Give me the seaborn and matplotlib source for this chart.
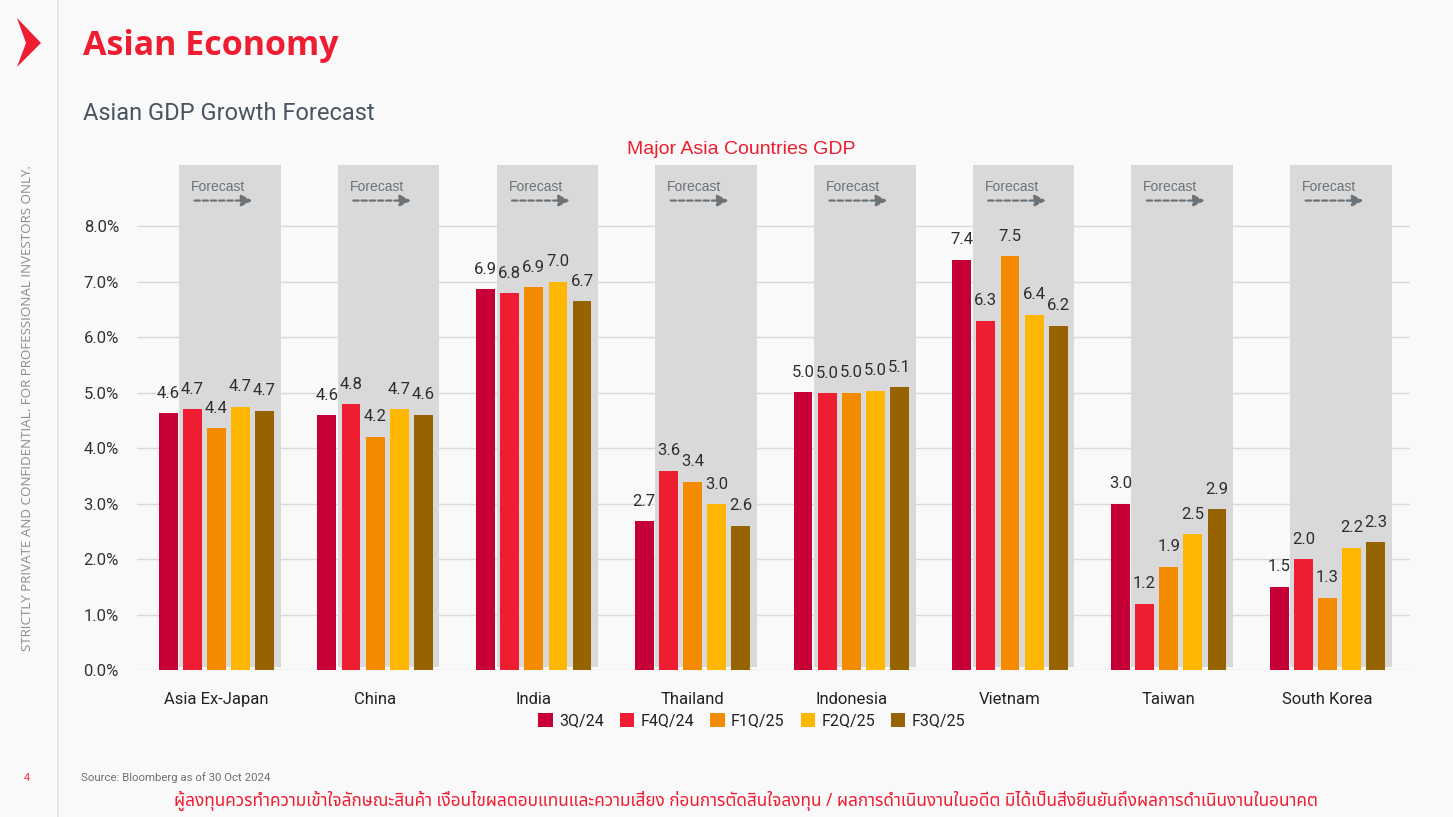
import numpy as np
import pandas as pd
import seaborn as sns
import matplotlib
matplotlib.use("Agg")
import matplotlib.pyplot as plt
from matplotlib import font_manager as fm
from matplotlib.patches import Rectangle, Polygon

# ---------------- data ----------------
countries = ["Asia Ex-Japan", "China", "India", "Thailand", "Indonesia",
             "Vietnam", "Taiwan", "South Korea"]
periods = ["3Q/24", "F4Q/24", "F1Q/25", "F2Q/25", "F3Q/25"]
q3_24 = [4.63, 4.59, 6.86, 2.68, 5.01, 7.39, 3.00, 1.50]
f4q_24 = [4.70, 4.79, 6.79, 3.59, 4.99, 6.29, 1.19, 2.00]
f1q_25 = [4.36, 4.20, 6.90, 3.39, 5.00, 7.46, 1.86, 1.30]
f2q_25 = [4.74, 4.70, 7.00, 2.99, 5.03, 6.40, 2.45, 2.20]
f3q_25 = [4.67, 4.60, 6.65, 2.60, 5.10, 6.20, 2.90, 2.30]
yticks = [0, 1, 2, 3, 4, 5, 6, 7, 8]
colors = ["#C60036", "#EE1D31", "#F38A00", "#FFB600", "#956300"]

series = [q3_24, f4q_24, f1q_25, f2q_25, f3q_25]
df = pd.DataFrame([
    {"Country": c, "Period": p, "GDP": s[i]}
    for p, s in zip(periods, series)
    for i, c in enumerate(countries)
])

# ---------------- fonts ----------------
names = {f.name for f in fm.fontManager.ttflist}
narrow = "Roboto"
thai = "Noto Sans Thai" if "Noto Sans Thai" in names else "DejaVu Sans"

sns.set_theme(style="white")
bg = "#F9F9F9"
plt.rcParams["font.family"] = ["Liberation Sans", "DejaVu Sans"]

W = 1453
H = 817
fig = plt.figure(figsize=(14.53, 8.17), dpi=100, facecolor=bg)
ax = fig.add_axes([137 / W, 1 - 670 / H, (1410 - 137) / W, 455 / H])
ax.set_facecolor("none")

# forecast shaded boxes (drawn behind bars)
for i in range(len(countries)):
    ax.add_patch(Rectangle((i - 0.235, 0.05), 0.64, 9.05, facecolor="#D9D9D9",
                           edgecolor="none", zorder=0, clip_on=False))
    ax.text(i - 0.16, 8.7, "Forecast", fontsize=10, color="#6B7378",
            ha="left", va="center", zorder=1, family="Liberation Sans")
    ax.annotate("", xy=(i + 0.245, 8.46), xytext=(i - 0.155, 8.46),
                arrowprops=dict(arrowstyle="-|>,head_length=0.55,head_width=0.28",
                                color="#6B7378", lw=1.6, linestyle=(0, (2.4, 1.3))),
                annotation_clip=False, zorder=1)

sns.barplot(data=df, x="Country", y="GDP", hue="Period", order=countries,
            hue_order=periods, palette=colors, width=0.76, gap=0.22,
            saturation=1, ax=ax, zorder=3, legend=True, linewidth=0)

for cont in ax.containers:
    ax.bar_label(cont, fmt="%.1f", padding=9, fontsize=12, color="#2E2E2E",
                 family=narrow)

ax.set_xlim(-0.5, 7.52)
ax.set_ylim(0, 8.2)
ax.set_yticks(yticks)
ax.set_yticklabels([f"{v:.1f}%" for v in yticks], family=narrow, fontsize=12,
                   color="#333333")
ax.tick_params(axis="y", length=0, pad=13)
ax.tick_params(axis="x", length=0, pad=16)
for lab in ax.get_xticklabels():
    lab.set_family(narrow)
    lab.set_fontsize(12)
    lab.set_color("#222222")
ax.yaxis.grid(True, color="#DADADA", lw=1)
ax.set_axisbelow(True)
ax.set_xlabel("")
ax.set_ylabel("")
for s in ax.spines.values():
    s.set_visible(False)

leg = ax.legend(loc="upper center", bbox_to_anchor=(0.483, -0.064), ncol=5,
                frameon=False, handlelength=0.9, handleheight=0.9,
                handletextpad=0.4, columnspacing=1.0,
                prop={"family": narrow, "size": 11.5})
for t in leg.get_texts():
    t.set_color("#222222")

# ---------------- page decorations ----------------
fig.add_artist(plt.Line2D([58 / W, 58 / W], [0, 1], color="#E3E3E3", lw=1.2))
fig.add_artist(Polygon([[17 / W, 1 - 18 / H], [41 / W, 1 - 43 / H],
                        [17 / W, 1 - 67 / H], [26 / W, 1 - 43 / H]],
                       closed=True, facecolor="#EE1D31", edgecolor="none"))
fig.text(83 / W, 1 - 46 / H, "Asian Economy", fontsize=24.5, weight="bold",
         color="#EE1D31", ha="left", va="center", family="Open Sans")
fig.text(83 / W, 1 - 113 / H, "Asian GDP Growth Forecast", fontsize=17,
         color="#4A5560", ha="left", va="center", family=narrow)
fig.text(741 / W, 1 - 149 / H, "Major Asia Countries GDP", fontsize=14,
         color="#EE1D31", ha="center", va="center", family="Liberation Sans")
fig.text(28 / W, 1 - 408 / H,
         "STRICTLY PRIVATE AND CONFIDENTIAL. FOR PROFESSIONAL INVESTORS ONLY.",
         rotation=90, fontsize=9.6, color="#8C8C8C", ha="center", va="center",
         family="Open Sans")
fig.text(27 / W, 1 - 778 / H, "4", fontsize=8, color="#EE1D31", ha="center",
         va="center", family="Liberation Sans")
fig.text(81 / W, 1 - 778 / H, "Source: Bloomberg as of 30 Oct 2024", fontsize=8.2,
         color="#707070", ha="left", va="center", family=narrow)
fig.text(746 / W, 1 - 801 / H,
         "ผู้ลงทุนควรทำความเข้าใจลักษณะสินค้า เงื่อนไขผลตอบแทนและความเสี่ยง ก่อนการตัดสินใจลงทุน / ผลการดำเนินงานในอดีต มิได้เป็นสิ่งยืนยันถึงผลการดำเนินงานในอนาคต",
         fontsize=12.4, color="#EE1D31", ha="center", va="center",
         family=[thai, "DejaVu Sans"])

fig.savefig("out.png", dpi=100, facecolor=bg)
